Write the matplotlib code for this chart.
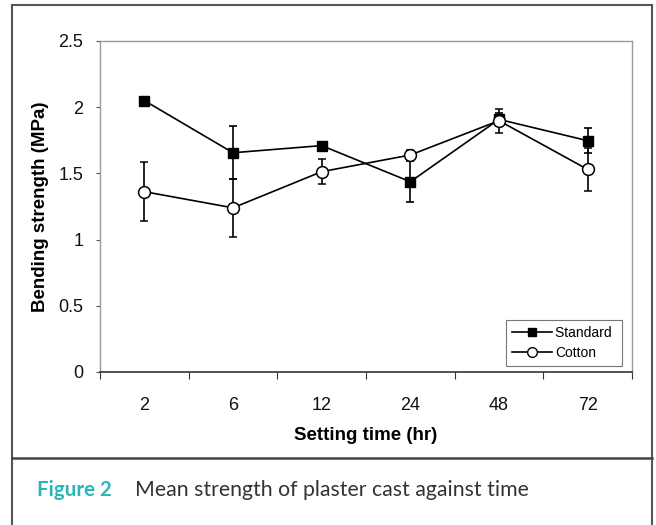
import numpy as np
import matplotlib.pyplot as plt
from matplotlib.patches import Rectangle
from matplotlib.lines import Line2D

#data
times = ['2', '6', '12', '24', '48', '72']
standard = [2.05, 1.656, 1.71, 1.437, 1.908, 1.747]
standard_err = [0.03, 0.20, 0.02, 0.155, 0.05, 0.095]
cotton = [1.362, 1.24, 1.513, 1.639, 1.898, 1.53]
cotton_err = [0.222, 0.218, 0.095, 0.04, 0.09, 0.16]

plt.rcParams['font.family'] = ['Liberation Sans', 'DejaVu Sans']

fig = plt.figure(figsize=(6.56, 5.25), dpi=100)

#outer frame and caption separator
fig.patches.append(Rectangle((12/656, -0.05), 640/656, 1.05 - 5/525, transform=fig.transFigure,
                             fill=False, edgecolor='#555555', linewidth=1.5))
fig.lines.append(Line2D([12/656, 652/656], [67.5/525, 67.5/525], transform=fig.transFigure,
                        color='#444444', linewidth=1.8))

ax = fig.add_axes([100/656, 153/525, 532/656, 331/525])
x = np.arange(len(times))

ax.errorbar(x, standard, yerr=standard_err, color='black', lw=1.2, marker='s', ms=7,
            mfc='black', mec='black', capsize=3, elinewidth=1.2, capthick=1.2,
            zorder=3)
ax.errorbar(x, cotton, yerr=cotton_err, color='black', lw=1.2, marker='o', ms=8.5,
            mfc='white', mec='black', mew=1.1, capsize=3, elinewidth=1.2, capthick=1.2,
            zorder=4)

ax.set_xlim(-0.5, 5.5)
ax.set_ylim(0, 2.5)
ax.set_yticks([0, 0.5, 1, 1.5, 2, 2.5])
ax.set_yticklabels(['0', '0.5', '1', '1.5', '2', '2.5'])
ax.set_xticks(np.arange(-0.5, 6, 1))
ax.set_xticklabels([])
ax.set_xticks(x, minor=True)
ax.set_xticklabels(times, minor=True)
ax.tick_params(axis='x', which='minor', length=0, pad=18, labelsize=13, labelcolor='#111111')
ax.tick_params(axis='x', which='major', length=5, width=0.8, color='#333333')
ax.tick_params(axis='y', length=3, width=0.8, color='#555555', labelsize=13, pad=9,
               labelcolor='#111111')

for s in ['top', 'right', 'left']:
    ax.spines[s].set_color('#999999')
    ax.spines[s].set_linestyle((0, (1, 1)))
    ax.spines[s].set_linewidth(1.0)
ax.spines['bottom'].set_color('#333333')
ax.spines['bottom'].set_linewidth(1.2)

ax.set_xlabel('Setting time (hr)', fontsize=13.5, fontweight='bold', labelpad=9)
ax.set_ylabel('Bending strength (MPa)', fontsize=13.5, fontweight='bold', labelpad=7)

handles = [Line2D([], [], color='black', lw=1.2, marker='s', ms=6, mfc='black', mec='black'),
           Line2D([], [], color='black', lw=1.2, marker='o', ms=7, mfc='white', mec='black')]
leg = ax.legend(handles, ['Standard ', 'Cotton'], loc='lower right',
                bbox_to_anchor=(1 - 10/532, 6/331), fontsize=10,
                frameon=True, fancybox=False, handlelength=2.9, handletextpad=0.2,
                borderpad=0.45, labelspacing=0.4, edgecolor='#555555', borderaxespad=0)
leg.get_frame().set_linewidth(0.8)

#caption
fig.text(37/656, 1 - 490/525, 'Figure 2', color='#2bb5b8', fontsize=14.8, fontweight='bold',
         family=['Lato', 'DejaVu Sans'], va='center', ha='left')
fig.text(135/656, 1 - 490/525, 'Mean strength of plaster cast against time', color='#333333',
         fontsize=15.3, family=['Lato', 'DejaVu Sans'], va='center', ha='left')

fig.savefig('out.png', dpi=100)
